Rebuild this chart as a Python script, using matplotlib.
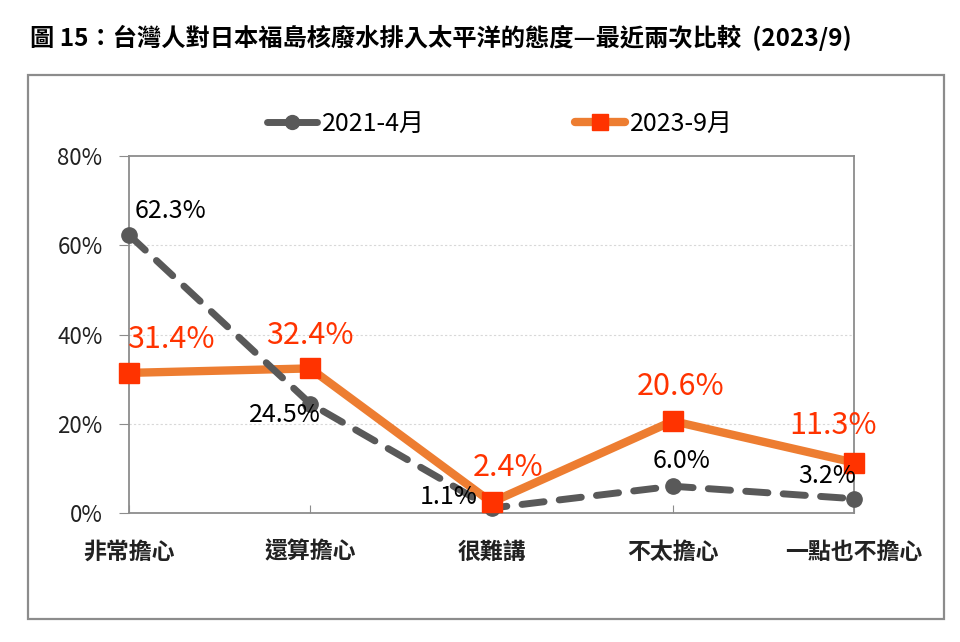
import matplotlib.pyplot as plt
from matplotlib.lines import Line2D
from matplotlib.patches import Rectangle

plt.rcParams["font.family"] = ["Noto Sans CJK TC", "DejaVu Sans"]

CATEGORIES = ["非常擔心", "還算擔心", "很難講", "不太擔心", "一點也不擔心"]
SERIES_2021 = [62.3, 24.5, 1.1, 6.0, 3.2]
SERIES_2023 = [31.4, 32.4, 2.4, 20.6, 11.3]
LABEL_2021 = "2021-4月"
LABEL_2023 = "2023-9月"
Y_TICKS = [0, 20, 40, 60, 80]
TITLE = "圖 15：台灣人對日本福島核廢水排入太平洋的態度—最近兩次比較  (2023/9)"

GRAY = "#595959"
ORANGE = "#ED7D31"
RED = "#FF3300"

fig = plt.figure(figsize=(9.6, 6.42), dpi=100)
W, H = 960, 642

# outer frame
fig.patches.append(Rectangle((28 / W, 1 - 619 / H), (944 - 28) / W, (619 - 75) / H,
                             transform=fig.transFigure, fill=False,
                             edgecolor="#8c8c8c", linewidth=1.6))

fig.text(30 / W, 1 - 38 / H, TITLE, fontsize=17.5, fontweight="bold",
         va="center", ha="left", color="black")

ax = fig.add_axes([129 / W, 1 - 513 / H, (854 - 129) / W, (513 - 156) / H])
x = list(range(len(CATEGORIES)))

ax.plot(x, SERIES_2023, color=ORANGE, linewidth=6, solid_capstyle="round",
        zorder=2, clip_on=False)
ax.plot(x, SERIES_2021, color=GRAY, linewidth=5, linestyle=(0, (3.2, 2.2)),
        dash_capstyle="round", marker="o", markersize=11, markerfacecolor=GRAY,
        markeredgecolor=GRAY, zorder=3, clip_on=False)
ax.plot(x, SERIES_2023, linestyle="none", marker="s", markersize=15,
        markerfacecolor=RED, markeredgecolor=RED, zorder=4, clip_on=False)

ax.set_xlim(0, len(CATEGORIES) - 1)
ax.set_ylim(0, 80)
ax.set_yticks(Y_TICKS)
ax.set_yticklabels([f"{v}%" for v in Y_TICKS], fontsize=16, color="#222222")
ax.set_xticks(x)
ax.set_xticklabels(CATEGORIES, fontsize=16.5, fontweight="bold", color="#222222")
ax.tick_params(axis="x", direction="in", length=6, color="#8c8c8c", pad=20)
ax.tick_params(axis="y", direction="out", length=7, color="#8c8c8c", pad=12)
for y in Y_TICKS[1:-1]:
    ax.axhline(y, color="#d8d8d8", linewidth=0.8, linestyle=(0, (2, 2)), zorder=1)
for s in ax.spines.values():
    s.set_color("#8c8c8c")
    s.set_linewidth(1.3)

# data labels (offsets in points)
off_2021 = [(30, 17), (-18, -8), (-31, 8), (6, 18), (-19, 16)]
off_2023 = [(30, 24), (0, 24), (12, 25), (6, 25), (-15, 27)]
for i, v in enumerate(SERIES_2021):
    ax.annotate(f"{v:.1f}%", (i, v), xytext=off_2021[i], textcoords="offset points",
                ha="center", va="center", fontsize=18, color="black", zorder=5,
                annotation_clip=False)
for i, v in enumerate(SERIES_2023):
    ax.annotate(f"{v:.1f}%", (i, v), xytext=off_2023[i], textcoords="offset points",
                ha="center", va="center", fontsize=22, color=RED, zorder=5,
                annotation_clip=False)

handles = [
    Line2D([], [], color=GRAY, linewidth=5, marker="o", markersize=10,
           solid_capstyle="round"),
    Line2D([], [], color=ORANGE, linewidth=6, marker="s", markersize=11,
           markerfacecolor=RED, markeredgecolor=RED, solid_capstyle="round"),
]
fig.legend(handles, [LABEL_2021, LABEL_2023], loc="center", ncol=2,
           bbox_to_anchor=(500 / W, 1 - 124 / H), frameon=False, fontsize=18,
           handlelength=2.0, columnspacing=6.0, handletextpad=0.2)

fig.savefig("out.png", dpi=100)
